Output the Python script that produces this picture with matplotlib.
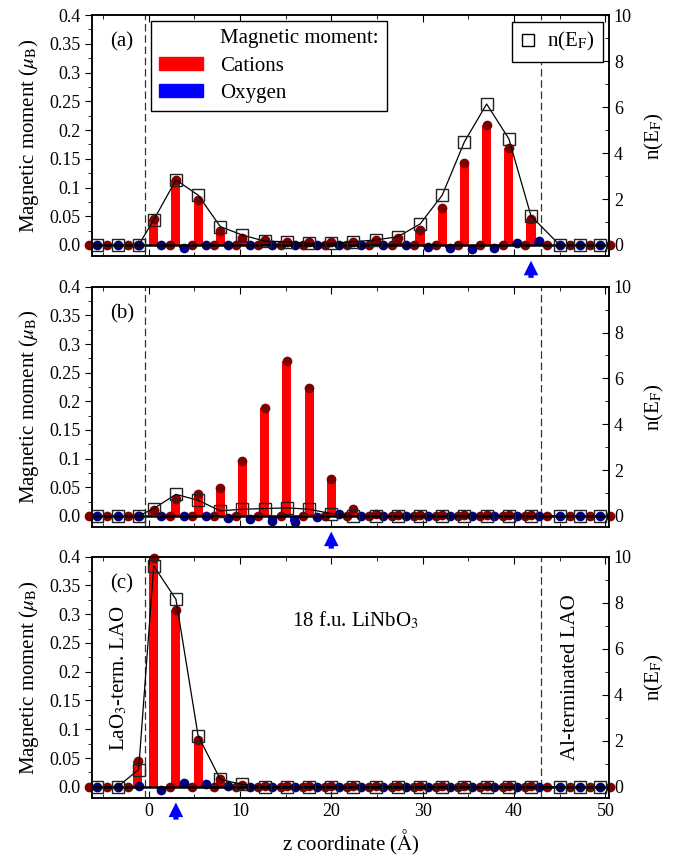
import matplotlib
matplotlib.use('Agg')
import matplotlib.pyplot as plt
from matplotlib.patches import Patch
from matplotlib.lines import Line2D
from matplotlib.ticker import MultipleLocator, FuncFormatter

plt.rcParams['font.family'] = ['Liberation Serif', 'DejaVu Serif']
plt.rcParams['mathtext.fontset'] = 'stix'

# atomic layer positions along z (Angstrom)
z_nb = [0.55, 2.98, 5.41, 7.84, 10.27, 12.70, 15.13, 17.56, 19.99,
        22.42, 24.85, 27.28, 29.71, 32.14, 34.57, 37.00, 39.43, 41.86]
z_li = [2.30, 4.73, 7.16, 9.59, 12.02, 14.45, 16.88, 19.31, 21.74,
        24.17, 26.60, 29.03, 31.46, 33.89, 36.32, 38.75, 41.18, 43.61]
z_ox = [1.40, 3.83, 6.26, 8.69, 11.12, 13.55, 15.98, 18.41, 20.84,
        23.27, 25.70, 28.13, 30.56, 32.99, 35.42, 37.85, 40.28, 42.71]
z_lao_cat = [-6.5, -4.6, -2.3, -1.2, 46.1, 48.3, 50.5]
z_lao_ox = [-5.7, -3.4, -1.1, 45.0, 47.2, 49.4]
z_dos = [-5.7, -3.4, -1.1] + z_nb + [45.0, 47.2, 49.4]

# magnetic moments (mu_B): Nb-site cations
nb_a = [0.045, 0.113, 0.078, 0.025, 0.013, 0.009, 0.006, 0.005, 0.005,
        0.006, 0.009, 0.013, 0.026, 0.064, 0.143, 0.209, 0.169, 0.046]
nb_b = [0.010, 0.030, 0.038, 0.048, 0.096, 0.189, 0.271, 0.223, 0.065,
        0.012, 0.003, 0.002, 0.002, 0.002, 0.002, 0.002, 0.002, 0.002]
nb_c = [0.397, 0.307, 0.082, 0.013, 0.003, 0.002, 0.001, 0.001, 0.001,
        0.001, 0.001, 0.001, 0.001, 0.001, 0.001, 0.001, 0.001, 0.001]
li_all = [0.0] * 18

# oxygen moments
ox_a = [0.0, -0.005, 0.0, 0.0, 0.0, 0.0, 0.0, 0.0, 0.0,
        0.0, 0.0, 0.0, -0.003, -0.005, -0.007, -0.006, 0.003, 0.007]
ox_b = [0.0, 0.0, 0.0, -0.003, -0.006, -0.009, -0.010, -0.002, 0.004,
        0.0, 0.0, 0.0, 0.0, 0.0, 0.0, 0.0, 0.0, 0.0]
ox_c = [-0.006, 0.007, 0.005, 0.002, 0.0, 0.0, 0.0, 0.0, 0.0,
        0.0, 0.0, 0.0, 0.0, 0.0, 0.0, 0.0, 0.0, 0.0]

# LAO layers
lao_cat_ab = [0.0] * 7
lao_cat_c = [0.0, 0.0, 0.0, 0.045, 0.0, 0.0, 0.0]
lao_ox_ab = [0.0] * 6
lao_ox_c = [0.0, 0.0, 0.002, 0.0, 0.0, 0.0]

# layer-resolved density of states at E_F
dos_a = [0.0, 0.0, 0.0,
         1.09, 2.83, 2.17, 0.80, 0.43, 0.17, 0.14, 0.07, 0.07,
         0.14, 0.22, 0.36, 0.91, 2.17, 4.49, 6.13, 4.62, 1.26,
         0.0, 0.0, 0.0]
dos_b = [0.0, 0.0, 0.0,
         0.32, 0.94, 0.68, 0.22, 0.29, 0.32, 0.35, 0.29, 0.10,
         0.0, 0.0, 0.0, 0.0, 0.0, 0.0, 0.0, 0.0, 0.0,
         0.0, 0.0, 0.0]
dos_c = [0.0, 0.0, 0.75,
         9.60, 8.15, 2.22, 0.32, 0.10, 0.0, 0.0, 0.0, 0.0,
         0.0, 0.0, 0.0, 0.0, 0.0, 0.0, 0.0, 0.0, 0.0,
         0.0, 0.0, 0.0]

interfaces = [-0.4, 42.9]
arrow_z = [41.86, 19.99, 2.98]

panels = [
    ('(a)', nb_a, ox_a, lao_cat_ab, lao_ox_ab, dos_a),
    ('(b)', nb_b, ox_b, lao_cat_ab, lao_ox_ab, dos_b),
    ('(c)', nb_c, ox_c, lao_cat_c, lao_ox_c, dos_c),
]

FS = 15
fig = plt.figure(figsize=(6.82, 8.59), dpi=100)
boxes = [(0.7014, 0.9825), (0.3861, 0.6662), (0.0707, 0.3519)]
left, right = 0.135, 0.893


def yfmt(v, pos):
    if abs(v) < 1e-9:
        return '0.0'
    return '%g' % v


for i, (tag, nb, ox, lcat, lox, dos) in enumerate(panels):
    b0, b1 = boxes[i]
    ax = fig.add_axes([left, b0, right - left, b1 - b0])
    ax2 = ax.twinx()

    cat_z = z_lao_cat + z_nb + z_li
    cat_m = lcat + nb + li_all
    ox_z = z_lao_ox + z_ox
    ox_m = lox + ox

    ax.bar(cat_z, cat_m, width=1.0, color='#ff0000', zorder=1)
    ax.bar(ox_z, ox_m, width=1.0, color='#0000ff', zorder=1)
    ax.plot(cat_z, cat_m, 'o', ms=7, color='#800000', mec='none',
            zorder=3, clip_on=False)
    ax.plot(ox_z, ox_m, 'o', ms=7, color='#000080', mec='none',
            zorder=3, clip_on=False)
    ax.axhline(0, color='black', lw=1.8, zorder=4)
    for zi in interfaces:
        ax.axvline(zi, color='#333333', lw=0.9, dashes=(6, 3), zorder=0)

    ax2.plot(z_dos, dos, '-', color='black', lw=0.9, zorder=5)
    ax2.plot(z_dos, dos, 's', ms=9, mfc='none', mec='#222222', mew=1.0,
             zorder=6)

    ax.set_xlim(-6.2, 50.4)
    ax.set_ylim(-0.02, 0.4)
    ax2.set_ylim(-0.5, 10)

    ax.xaxis.set_major_locator(MultipleLocator(10))
    ax.xaxis.set_minor_locator(MultipleLocator(5))
    ax.yaxis.set_major_locator(MultipleLocator(0.05))
    ax.yaxis.set_minor_locator(MultipleLocator(0.025))
    ax.yaxis.set_major_formatter(FuncFormatter(yfmt))
    ax2.yaxis.set_major_locator(MultipleLocator(2))
    ax2.yaxis.set_minor_locator(MultipleLocator(1))

    ax.tick_params(axis='x', which='both', direction='in', top=True,
                   labelsize=13)
    ax.tick_params(axis='x', which='major', length=5)
    ax.tick_params(axis='x', which='minor', length=3)
    ax.tick_params(axis='y', which='major', direction='out', length=5,
                   labelsize=13)
    ax.tick_params(axis='y', which='minor', direction='out', length=3)
    ax2.tick_params(axis='y', which='major', direction='in', length=5,
                    labelsize=13)
    ax2.tick_params(axis='y', which='minor', direction='in', length=3)
    for a in (ax, ax2):
        for s in a.spines.values():
            s.set_linewidth(1.1)

    if i < 2:
        ax.tick_params(axis='x', labelbottom=False)
    else:
        ax.set_xlabel(r'z coordinate ($\rm\AA$)', fontsize=FS, labelpad=6)

    ax.set_ylabel(r'Magnetic moment ($\mu_{\rm B}$)', fontsize=FS, labelpad=6)
    ax2.set_ylabel(r'n(E$_{\rm F}$)', fontsize=FS, labelpad=8)

    ax.text(0.058, 0.888, tag, transform=ax.transAxes, fontsize=FS,
            ha='center', va='center')

    ax.annotate('', xy=(arrow_z[i], -0.006), xycoords=('data', 'axes fraction'),
                xytext=(arrow_z[i], -0.10), textcoords=('data', 'axes fraction'),
                arrowprops=dict(arrowstyle='simple,head_width=0.7,head_length=0.7,tail_width=0.25',
                                color='#0000ff', mutation_scale=15, lw=0),
                annotation_clip=False)

    if i == 0:
        handles = [Line2D([], [], linestyle='none'),
                   Patch(color='#ff0000'), Patch(color='#0000ff')]
        labels = ['Magnetic moment:', 'Cations', 'Oxygen']
        leg1 = ax2.legend(handles, labels, loc='upper left',
                          bbox_to_anchor=(0.114, 0.975), fontsize=FS,
                          frameon=True, fancybox=False, edgecolor='black',
                          framealpha=1, handlelength=2.1, handleheight=0.6,
                          borderaxespad=0, labelspacing=0.4)
        leg1.get_frame().set_linewidth(1.0)
        ax2.add_artist(leg1)
        sq = Line2D([], [], marker='s', linestyle='none', ms=9,
                    mfc='none', mec='black')
        leg2 = ax2.legend([sq], [r'n(E$_{\rm F}$)'], loc='upper right',
                          bbox_to_anchor=(0.988, 0.971), fontsize=FS,
                          frameon=True, fancybox=False, edgecolor='black',
                          framealpha=1, handlelength=0.8, handletextpad=0.5,
                          borderaxespad=0)
        leg2.get_frame().set_linewidth(1.0)

    if i == 2:
        ax.text(0.509, 0.738, r'18 f.u. LiNbO$_3$', transform=ax.transAxes,
                fontsize=FS, ha='center', va='center')
        ax.text(0.052, 0.498, r'LaO$_3$-term. LAO', transform=ax.transAxes,
                fontsize=FS, ha='center', va='center', rotation=90)
        ax.text(0.926, 0.50, 'Al-terminated LAO', transform=ax.transAxes,
                fontsize=FS, ha='center', va='center', rotation=90)

fig.savefig('out.png', dpi=100)
